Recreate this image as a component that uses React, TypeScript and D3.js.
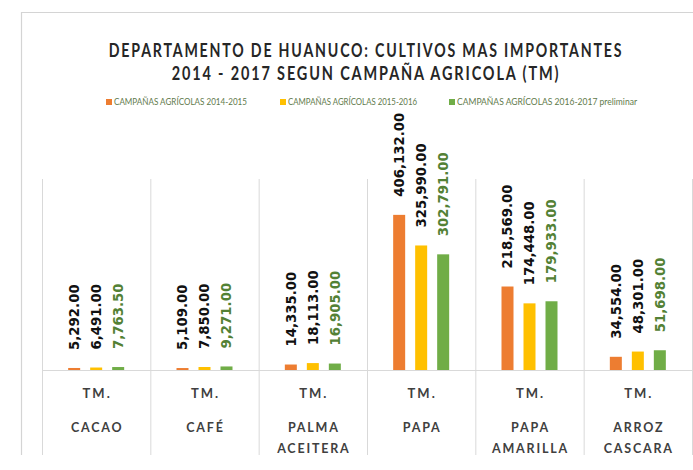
import React from "react";
import * as d3 from "d3";

const categories = ["CACAO", "CAFÉ", "PALMA ACEITERA", "PAPA", "PAPA AMARILLA", "ARROZ CASCARA"];
const categoryLines = [["CACAO"], ["CAFÉ"], ["PALMA", "ACEITERA"], ["PAPA"], ["PAPA", "AMARILLA"], ["ARROZ", "CASCARA"]];
const seriesNames = [
  "CAMPAÑAS AGRÍCOLAS 2014-2015",
  "CAMPAÑAS AGRÍCOLAS 2015-2016",
  "CAMPAÑAS AGRÍCOLAS 2016-2017 preliminar",
];
const s2014 = [5292.0, 5109.0, 14335.0, 406132.0, 218569.0, 34554.0];
const s2015 = [6491.0, 7850.0, 18113.0, 325990.0, 174448.0, 48301.0];
const s2016 = [7763.5, 9271.0, 16905.0, 302791.0, 179933.0, 51698.0];
const seriesValues = [s2014, s2015, s2016];
const seriesColors = ["#ED7D31", "#FFC000", "#70AD47"];
const labelColors = ["#111111", "#111111", "#538135"];
const unitLabel = "TM.";
const titleLines = [
  "DEPARTAMENTO DE HUANUCO: CULTIVOS MAS IMPORTANTES",
  "2014 - 2017 SEGUN CAMPAÑA AGRICOLA (TM)",
];

const W = 693;
const H = 470;

export default function App() {
  const x = d3.scaleBand<string>().domain(categories).range([42, 692]).paddingInner(0).paddingOuter(0);
  const y = d3.scaleLinear().domain([0, 500000]).range([370, 179]);
  const inner = d3
    .scaleBand<number>()
    .domain([0, 1, 2])
    .range([0, 66])
    .paddingInner(10 / 22)
    .paddingOuter(5 / 22);
  const fmt = d3.format(",.2f");
  const bw = x.bandwidth();

  const legendX = [106, 280, 449];
  const legendW = [141, 137, 188];
  const titleScale = [0.727, 0.743];

  return (
    <svg width={W} height={H} style={{ position: "absolute", left: 0, top: 0, background: "#fff" }}>
      <rect x={0} y={0} width={W} height={H} fill="#fff" />
      {/* outer frame */}
      <line x1={21} y1={12.5} x2={W} y2={12.5} stroke="#d4d4d4" strokeWidth={1.2} />
      <line x1={21.5} y1={12} x2={21.5} y2={455} stroke="#d4d4d4" strokeWidth={1.2} />

      {/* title */}
      {titleLines.map((t, i) => (
        <g key={t} transform={`translate(366,${50 + i * 23}) scale(${titleScale[i]},1)`}>
          <text
            x={0}
            y={0}
            dy="0.35em"
            textAnchor="middle"
            fontFamily="Lato, 'Open Sans', sans-serif"
            fontWeight={700}
            fontSize={19.5}
            letterSpacing={2.5}
            fill="#262626"
          >
            {t}
          </text>
        </g>
      ))}

      {/* legend */}
      {seriesNames.map((n, i) => (
        <g key={n}>
          <rect x={legendX[i]} y={99} width={6} height={6} fill={seriesColors[i]} />
          <text
            x={legendX[i] + 8}
            y={102}
            dy="0.35em"
            fontFamily="Lato, 'Open Sans', sans-serif"
            fontSize={9.5}
            fill="#5f7a4c"
            textLength={legendW[i] - 8}
            lengthAdjust="spacingAndGlyphs"
          >
            {n}
          </text>
        </g>
      ))}

      {/* category separators */}
      {categories.map((c) => (
        <line key={"sep" + c} x1={x(c)! + 0.5} y1={179} x2={x(c)! + 0.5} y2={455} stroke="#d9d9d9" strokeWidth={1} />
      ))}
      <line x1={692.5} y1={179} x2={692.5} y2={455} stroke="#d9d9d9" strokeWidth={1} />

      {/* bars */}
      {seriesValues.map((vals, si) =>
        vals.map((v, ci) => {
          const c = categories[ci];
          const bx = x(c)! + bw / 2 - 33 + inner(si)!;
          return (
            <rect
              key={`b${si}-${ci}`}
              x={bx}
              y={y(v)}
              width={inner.bandwidth()}
              height={y(0) - y(v)}
              fill={seriesColors[si]}
            />
          );
        })
      )}

      {/* baseline */}
      <line x1={42} y1={370.5} x2={692} y2={370.5} stroke="#d9d9d9" strokeWidth={1.2} />

      {/* data labels */}
      {seriesValues.map((vals, si) =>
        vals.map((v, ci) => {
          const c = categories[ci];
          const cx = x(c)! + bw / 2 - 33 + inner(si)! + inner.bandwidth() / 2;
          const ty = y(v) - 18;
          return (
            <text
              key={`l${si}-${ci}`}
              transform={`translate(${cx},${ty}) rotate(-90)`}
              dy="0.36em"
              fontFamily="'DejaVu Sans', Verdana, sans-serif"
              fontWeight={700}
              fontSize={13.3}
              fill={labelColors[si]}
            >
              {fmt(v)}
            </text>
          );
        })
      )}

      {/* category labels */}
      {categories.map((c, ci) => (
        <g key={"cat" + c} fontFamily="Lato, 'Open Sans', sans-serif" fontWeight={700} fill="#404040" textAnchor="middle">
          <text x={x(c)! + bw / 2 + 1} y={393.5} dy="0.35em" fontSize={13} letterSpacing={2}>
            {unitLabel}
          </text>
          {categoryLines[ci].map((ln, li) => (
            <text key={ln} x={x(c)! + bw / 2 + 1} y={427.5 + li * 21} dy="0.35em" fontSize={12.5} letterSpacing={1.8}>
              {ln}
            </text>
          ))}
        </g>
      ))}
    </svg>
  );
}
